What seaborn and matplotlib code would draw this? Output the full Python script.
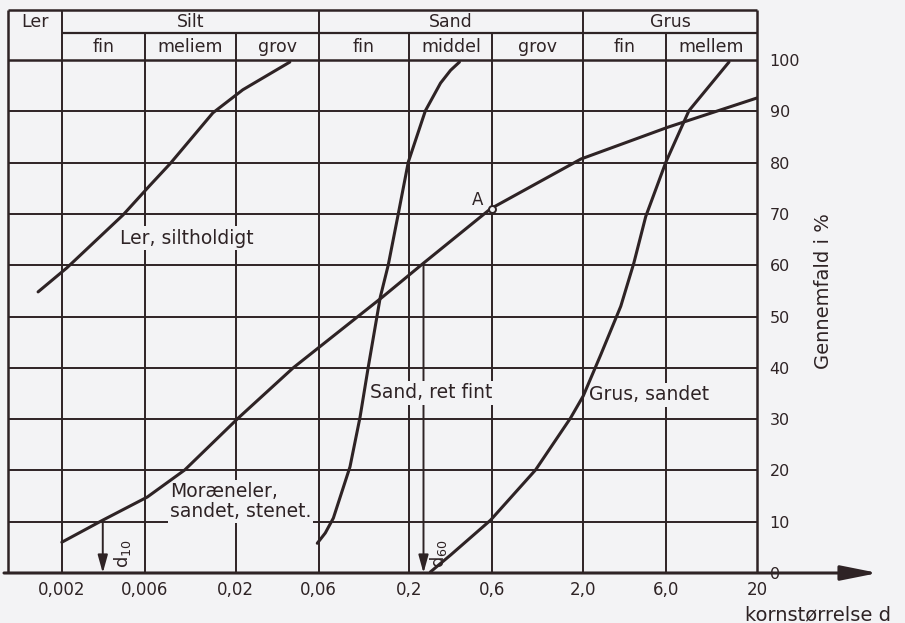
import numpy as np
import pandas as pd
import seaborn as sns
import matplotlib.pyplot as plt
from matplotlib.ticker import NullLocator

sns.set_theme(style="white")
plt.rcParams['font.family'] = ['DejaVu Sans']

ink = '#2e2325'
paper = '#f3f3f5'

# kornkurver: kornstørrelse d (mm) og gennemfald (%)
ler_d = [0.00146, 0.00214, 0.0045, 0.0064, 0.0084, 0.0148, 0.022, 0.041]
ler_p = [54.8, 59.5, 69.8, 75.5, 79.8, 89.7, 94.2, 99.6]

moraene_d = [0.002, 0.00344, 0.0062, 0.0102, 0.0207, 0.0429, 0.140, 0.241, 0.586, 1.94, 6.14, 20.0]
moraene_p = [6.0, 10.3, 14.8, 20.1, 30.2, 40.0, 53.8, 60.4, 71.0, 80.7, 86.9, 92.6]

sand_d = [0.059, 0.0656, 0.073, 0.091, 0.104, 0.116, 0.136, 0.151, 0.173, 0.197, 0.247, 0.302, 0.345, 0.388]
sand_p = [5.8, 7.8, 10.7, 20.7, 30.4, 40.2, 53.8, 60.0, 70.2, 80.1, 90.1, 95.5, 98.0, 99.6]

grus_d = [0.264, 0.345, 0.586, 1.064, 1.69, 2.0, 2.52, 3.29, 3.91, 4.58, 5.98, 8.11, 13.8]
grus_p = [0.2, 3.5, 10.3, 20.1, 30.2, 34.5, 42.5, 52.0, 60.4, 69.5, 80.1, 90.1, 99.6]

# d10 og d60 for moræneleret, punkt A
d10 = 0.00344
d60 = 0.241
punkt_a = (0.6, 71.0)

x_ticks = [0.002, 0.006, 0.02, 0.06, 0.2, 0.6, 2.0, 6.0, 20]
x_labels = ['0,002', '0,006', '0,02', '0,06', '0,2', '0,6', '2,0', '6,0', '20']
y_ticks = list(range(0, 101, 10))

hoved = ['Ler', 'Silt', 'Sand', 'Grus']
hoved_graenser = [0.00098, 0.002, 0.06, 2.0, 20]
under = ['fin', 'meliem', 'grov', 'fin', 'middel', 'grov', 'fin', 'mellem']
under_graenser = [0.002, 0.006, 0.02, 0.06, 0.2, 0.6, 2.0, 6.0, 20]

x0, x1 = 0.00098, 20
y_mid, y_top = 105.26, 109.75

fig = plt.figure(figsize=(9.05, 6.23), dpi=100, facecolor=paper)
ax = fig.add_axes([8/905, 50/623, 749/905, 563/623])
ax.set_facecolor(paper)
ax.set_xscale('log')
for s in ax.spines.values():
    s.set_visible(False)

# gitter
ax.hlines(y_ticks[1:10], x0, x1, color=ink, lw=1.4, zorder=1)
ax.hlines(100, x0, x1, color=ink, lw=1.8, zorder=1)
ax.hlines(y_mid, 0.002, x1, color=ink, lw=1.6, zorder=1)
ax.hlines(y_top, x0, x1, color=ink, lw=1.8, zorder=1, clip_on=False)
for d in x_ticks[:-1]:
    top = y_top if d in hoved_graenser else y_mid
    ax.vlines(d, 0, top, color=ink, lw=1.4, zorder=1)
ax.vlines([x0, x1], 0, y_top, color=ink, lw=1.8, zorder=1, clip_on=False)

# skema-hoved
for i, navn in enumerate(hoved):
    xc = np.sqrt(hoved_graenser[i] * hoved_graenser[i + 1])
    ax.text(xc, (y_mid + y_top) / 2, navn, ha='center', va='center', fontsize=12.5, color=ink)
for i, navn in enumerate(under):
    xc = np.sqrt(under_graenser[i] * under_graenser[i + 1])
    ax.text(xc, (100 + y_mid) / 2, navn, ha='center', va='center', fontsize=12.5, color=ink)

# kurverne
kurver = pd.concat([
    pd.DataFrame({'d': ler_d, 'p': ler_p, 'kurve': 'ler'}),
    pd.DataFrame({'d': moraene_d, 'p': moraene_p, 'kurve': 'moraene'}),
    pd.DataFrame({'d': sand_d, 'p': sand_p, 'kurve': 'sand'}),
    pd.DataFrame({'d': grus_d, 'p': grus_p, 'kurve': 'grus'}),
])
sns.lineplot(data=kurver, x='d', y='p', units='kurve', estimator=None, sort=False,
             color=ink, lw=2.2, ax=ax, zorder=3, legend=False)
ax.plot(*punkt_a, 'o', ms=5, mfc=paper, mec=ink, mew=1.4, zorder=4)
ax.text(0.493, 72.7, 'A', ha='center', va='center', fontsize=12, color=ink, zorder=4)

box = dict(facecolor=paper, edgecolor='none', pad=1.5)
ax.text(0.00432, 65.3, 'Ler, siltholdigt', ha='left', va='center', fontsize=13.5, color=ink, bbox=box, zorder=2)
ax.text(0.00838, 14.0, 'Moræneler,\nsandet, stenet.', ha='left', va='center', fontsize=13.5,
        color=ink, bbox=box, zorder=2, linespacing=1.05)
ax.text(0.119, 35.1, 'Sand, ret fint', ha='left', va='center', fontsize=13.5, color=ink, bbox=box, zorder=2)
ax.text(2.15, 34.7, 'Grus, sandet', ha='left', va='center', fontsize=13.5, color=ink, bbox=box, zorder=2)

# d10 og d60 pile
pil = dict(arrowstyle='-|>,head_length=0.9,head_width=0.25', lw=1.4, color=ink,
           shrinkA=0, shrinkB=0, mutation_scale=12)
ax.annotate('', xy=(d10, 0), xytext=(d10, 10), arrowprops=pil, zorder=2)
ax.annotate('', xy=(d60, 0), xytext=(d60, 60), arrowprops=pil, zorder=1)
ax.text(d10 * 1.13, 1.0, r'$\mathrm{d}_{10}$', rotation=90, ha='left', va='bottom', fontsize=13, color=ink)
ax.text(d60 * 1.06, 1.0, r'$\mathrm{d}_{60}$', rotation=90, ha='left', va='bottom', fontsize=13, color=ink)

# akser
ax.set_xlim(x0, x1)
ax.set_ylim(0, y_top)
ax.set_xlabel('')
ax.set_ylabel('')
ax.set_xticks(x_ticks)
ax.set_xticklabels(x_labels, fontsize=12, color=ink)
ax.xaxis.set_minor_locator(NullLocator())
ax.tick_params(axis='x', length=0, pad=6)
ax.yaxis.tick_right()
ax.set_yticks(y_ticks)
ax.set_yticklabels([str(v) for v in y_ticks], fontsize=11.5, color=ink)
ax.tick_params(axis='y', length=0, pad=9)

ax.annotate('', xy=(870/749, 0), xycoords='axes fraction', xytext=(-4/749, 0),
            arrowprops=dict(arrowstyle='-|>,head_length=1.5,head_width=0.3', lw=2.2, color=ink,
                            shrinkA=0, shrinkB=0, mutation_scale=15),
            annotation_clip=False)

fig.text(745/905, 1 - 615/623, 'kornstørrelse d', ha='left', va='center', fontsize=14, color=ink)
fig.text(823/905, 1 - 291/623, 'Gennemfald i %', rotation=90, ha='center', va='center',
         fontsize=14, color=ink)

fig.savefig('out.png', dpi=100, facecolor=paper)
